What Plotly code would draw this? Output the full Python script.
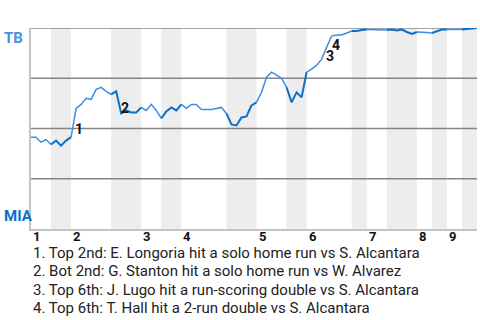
import plotly.graph_objects as go

# Win probability for TB after each event (0..89)
wp = [0.457, 0.457, 0.432, 0.445, 0.42, 0.44, 0.415, 0.44, 0.457,
      0.60, 0.62, 0.65, 0.645, 0.695, 0.705, 0.685, 0.67, 0.685,
      0.575, 0.59, 0.58, 0.58, 0.605, 0.59, 0.62, 0.59, 0.55,
      0.585, 0.605, 0.59, 0.62, 0.60, 0.62, 0.62, 0.595, 0.595, 0.595,
      0.60, 0.605, 0.575, 0.52, 0.515, 0.555, 0.56, 0.615, 0.63,
      0.68, 0.755, 0.78, 0.765, 0.75, 0.705, 0.63, 0.68, 0.655,
      0.78, 0.795, 0.815, 0.845, 0.905, 0.96, 0.965, 0.965, 0.975,
      0.985, 0.985, 0.99, 0.993, 0.993, 0.992, 0.99, 0.99, 0.993,
      0.988, 0.992, 0.98, 0.97, 0.98, 0.98, 0.978, 0.975, 0.983,
      0.992, 0.993, 0.993, 0.993, 0.993, 0.996, 0.998, 1.0]

# half-inning boundaries (event index); even segments = top, odd = bottom
half_bounds = [0, 4, 8, 16, 22, 26, 30, 39, 45, 51, 55, 64, 67, 71, 77, 80, 83, 86, 89]
inning_labels = ["1", "2", "3", "4", "5", "6", "7", "8", "9"]

team_top = "TB"
team_bottom = "MIA"

grid_levels = [0.25, 0.5, 0.75, 1.0]

event_labels = ["1", "2", "3", "4"]
event_x = [9.6, 18.8, 59.7, 60.8]
event_y = [0.50, 0.60, 0.86, 0.915]

notes = [
    "1. Top 2nd: E. Longoria hit a solo home run vs S. Alcantara",
    "2. Bot 2nd: G. Stanton hit a solo home run vs W. Alvarez",
    "3. Top 6th: J. Lugo hit a run-scoring double vs S. Alcantara",
    "4. Top 6th: T. Hall hit a 2-run double vs S. Alcantara",
]

LIGHT = "#3f8be6"
DARK = "#0a6fc6"
FONT = "Roboto"

fig = go.Figure()
shapes = []
for i in range(len(half_bounds) - 1):
    a, b = half_bounds[i], half_bounds[i + 1]
    bottom = i % 2 == 1
    if bottom:
        shapes.append(dict(type="rect", xref="x", yref="paper", x0=a, x1=b, y0=0, y1=1,
                           fillcolor="#ededed", line_width=0, layer="below"))
    xs = list(range(a, b + 1))
    fig.add_trace(go.Scatter(x=xs, y=[wp[k] for k in xs], mode="lines",
                             line=dict(color=DARK if bottom else LIGHT, width=2 if bottom else 1.5),
                             hoverinfo="skip", showlegend=False, cliponaxis=False))

for g in grid_levels:
    shapes.append(dict(type="line", xref="paper", yref="y", x0=0, x1=1, y0=g, y1=g,
                       line=dict(color="#858585", width=1.3), layer="below"))

annotations = []
for j, lab in enumerate(inning_labels):
    annotations.append(dict(x=half_bounds[2 * j], y=-0.035, xref="x", yref="paper",
                            text=f"<b>{lab}</b>", showarrow=False, xanchor="left", yanchor="middle",
                            font=dict(family=FONT, size=13, color="#111")))
for lab, x, y in zip(event_labels, event_x, event_y):
    annotations.append(dict(x=x, y=y, xref="x", yref="y", text=f"<b>{lab}</b>", showarrow=False,
                            xanchor="center", yanchor="middle",
                            font=dict(family=FONT, size=14, color="#111")))
annotations.append(dict(x=-0.066, y=1.005, xref="paper", yref="paper", text=f"<b>{team_top}</b>",
                        showarrow=False, xanchor="left", yanchor="top",
                        font=dict(family=FONT, size=15, color="#4a90e2")))
annotations.append(dict(x=-0.066, y=0.01, xref="paper", yref="paper", text=f"<b>{team_bottom}</b>",
                        showarrow=False, xanchor="left", yanchor="bottom",
                        font=dict(family=FONT, size=15, color="#0a6fc6")))
note_y = [-0.1194, -0.2114, -0.3035, -0.393]
for t, y in zip(notes, note_y):
    annotations.append(dict(x=0.0, y=y, xref="paper", yref="paper", text=t,
                            showarrow=False, xanchor="left", yanchor="middle", align="left",
                            font=dict(family=FONT, size=15, color="#222")))

fig.update_layout(
    width=480, height=320,
    margin=dict(l=31, r=3, t=28, b=91),
    paper_bgcolor="white", plot_bgcolor="white",
    shapes=shapes, annotations=annotations,
    xaxis=dict(range=[0, 89], showgrid=False, zeroline=False, showticklabels=False,
               showline=True, linecolor="#c4c4c4", linewidth=1.5, ticks=""),
    yaxis=dict(range=[0, 1], showgrid=False, zeroline=False, showticklabels=False, showline=True,
               linecolor="#c4c4c4", linewidth=1.5, ticks=""),
)

fig.write_html("out.html")
